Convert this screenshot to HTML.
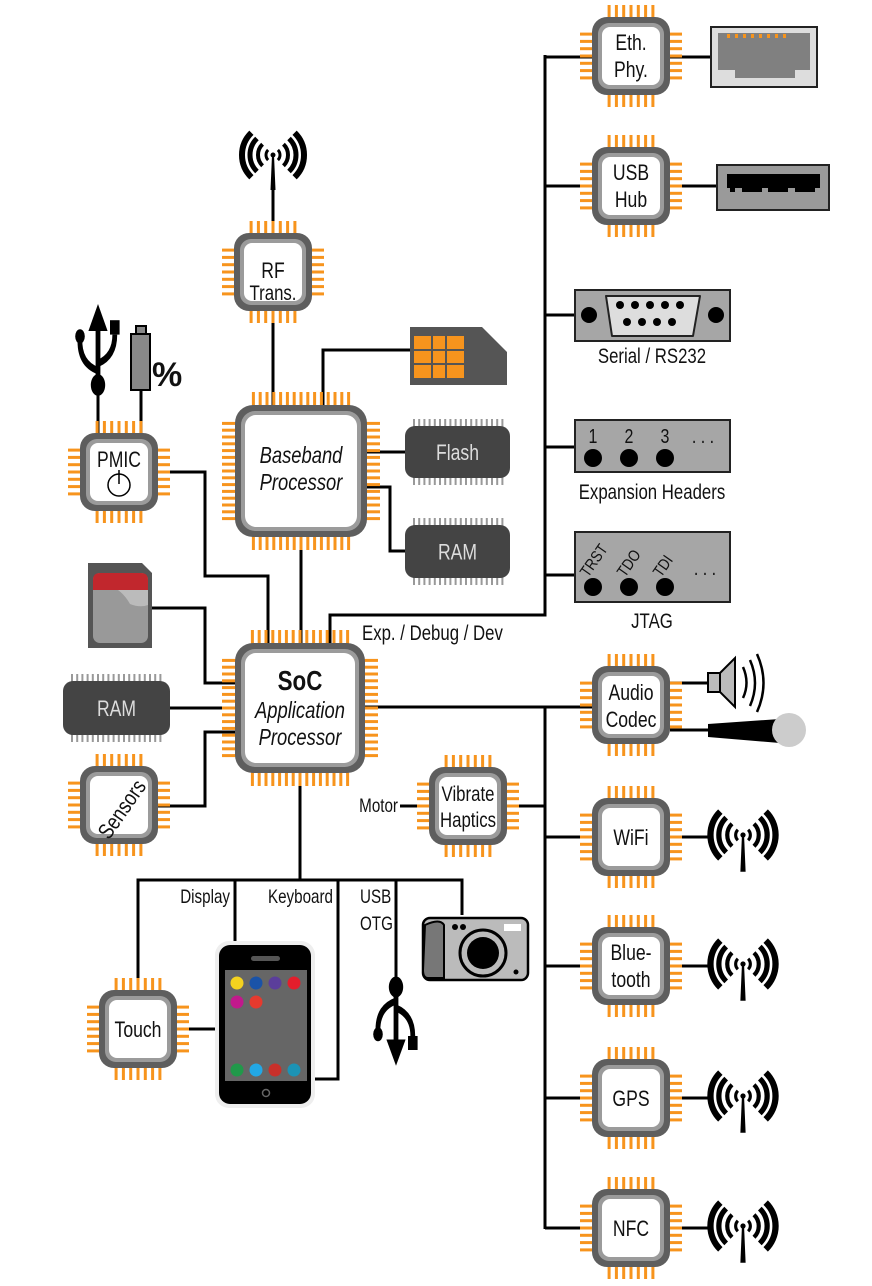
<!DOCTYPE html>
<html><head><meta charset="utf-8">
<style>
html,body{margin:0;padding:0;background:#fff;}
svg{display:block;}
text{font-family:"Liberation Sans Narrow","Liberation Sans",sans-serif;fill:#111;}
</style></head>
<body>
<svg id="s" width="872" height="1286" viewBox="0 0 872 1286" xmlns="http://www.w3.org/2000/svg">
<g id="lines" fill="none" stroke="#000" stroke-width="3">
  <polyline points="545,55 545,615 330,615 330,643"/>
  <line x1="545" y1="57" x2="593" y2="57"/>
  <line x1="545" y1="186" x2="593" y2="186"/>
  <line x1="545" y1="315" x2="575" y2="315"/>
  <line x1="545" y1="447" x2="575" y2="447"/>
  <line x1="545" y1="575" x2="575" y2="575"/>
  <line x1="670" y1="57" x2="711" y2="57"/>
  <line x1="670" y1="186" x2="717" y2="186"/>
  <line x1="273" y1="185" x2="273" y2="233"/>
  <line x1="273" y1="311" x2="273" y2="405"/>
  <polyline points="323,405 323,350 410,350"/>
  <line x1="367" y1="452" x2="405" y2="452"/>
  <polyline points="367,487 390,487 390,551 405,551"/>
  <line x1="301" y1="537" x2="301" y2="643"/>
  <polyline points="158,472 205,472 205,576 268,576 268,643"/>
  <line x1="98" y1="385" x2="98" y2="433"/>
  <line x1="141" y1="390" x2="141" y2="433"/>
  <polyline points="152,608 205,608 205,683 235,683"/>
  <line x1="170" y1="708" x2="235" y2="708"/>
  <polyline points="158,806 205,806 205,732 235,732"/>
  <line x1="365" y1="707" x2="593" y2="707"/>
  <line x1="545" y1="707" x2="545" y2="1229"/>
  <line x1="507" y1="806" x2="545" y2="806"/>
  <line x1="400" y1="806" x2="430" y2="806"/>
  <line x1="545" y1="837" x2="593" y2="837"/>
  <line x1="545" y1="966" x2="593" y2="966"/>
  <line x1="545" y1="1098" x2="593" y2="1098"/>
  <line x1="545" y1="1228" x2="593" y2="1228"/>
  <line x1="670" y1="683" x2="710" y2="683"/>
  <line x1="670" y1="730" x2="710" y2="730"/>
  <line x1="670" y1="837" x2="712" y2="837"/>
  <line x1="670" y1="966" x2="712" y2="966"/>
  <line x1="670" y1="1098" x2="712" y2="1098"/>
  <line x1="670" y1="1228" x2="712" y2="1228"/>
  <line x1="300" y1="773" x2="300" y2="880"/>
  <polyline points="138,990 138,880 462,880 462,915"/>
  <line x1="235" y1="880" x2="235" y2="943"/>
  <polyline points="338,880 338,1079 313,1079"/>
  <line x1="396" y1="880" x2="396" y2="985"/>
  <line x1="177" y1="1029" x2="217" y2="1029"/>
</g>
<g id="chips"></g>

<rect x="711" y="27" width="106" height="60" fill="#ddd" stroke="#222" stroke-width="2"/>
<path d="M718,33 H810 V70 H795 V78 H735 V70 H718 Z" fill="#808080"/>
<g fill="#f7941d"><rect x="727" y="34" width="3" height="4"/><rect x="735" y="34" width="3" height="4"/><rect x="743" y="34" width="3" height="4"/><rect x="751" y="34" width="3" height="4"/><rect x="759" y="34" width="3" height="4"/><rect x="767" y="34" width="3" height="4"/><rect x="775" y="34" width="3" height="4"/><rect x="783" y="34" width="3" height="4"/></g>
<rect x="717" y="165" width="112" height="45" fill="#9a9a9a" stroke="#222" stroke-width="2"/>
<path d="M727,174 H820 V188 H815 V192 H795 V188 H788 V192 H768 V188 H762 V192 H742 V188 H735 V192 H730 V188 H727 Z" fill="#000"/>
<rect x="575" y="290" width="155" height="51" fill="#a6a6a6" stroke="#222" stroke-width="2"/>
<path d="M606,296 H700 L693,336 H612 Z" fill="#ddd" stroke="#222" stroke-width="2" stroke-linejoin="round"/>
<circle cx="589" cy="315" r="8"/><circle cx="716" cy="315" r="8"/>
<g><circle cx="620" cy="305" r="4"/><circle cx="635" cy="305" r="4"/><circle cx="650" cy="305" r="4"/><circle cx="665" cy="305" r="4"/><circle cx="680" cy="305" r="4"/><circle cx="627" cy="322" r="4"/><circle cx="642" cy="322" r="4"/><circle cx="657" cy="322" r="4"/><circle cx="672" cy="322" r="4"/></g>
<text class="c" x="652" y="363" font-size="21" text-anchor="middle">Serial / RS232</text>
<rect x="575" y="420" width="155" height="52" fill="#a6a6a6" stroke="#222" stroke-width="2"/>
<text class="c" x="593" y="443" font-size="20" text-anchor="middle">1</text>
<text class="c" x="629" y="443" font-size="20" text-anchor="middle">2</text>
<text class="c" x="665" y="443" font-size="20" text-anchor="middle">3</text>
<text class="c" x="703" y="443" font-size="20" text-anchor="middle">. . .</text>
<circle cx="593" cy="458" r="9"/><circle cx="629" cy="458" r="9"/><circle cx="665" cy="458" r="9"/>
<text class="c" x="652" y="499" font-size="21" text-anchor="middle">Expansion Headers</text>
<rect x="575" y="532" width="155" height="70" fill="#a6a6a6" stroke="#222" stroke-width="2"/>
<text x="0" y="0" font-size="16" transform="translate(588,578) rotate(-55) scale(0.85,1)">TRST</text>
<text x="0" y="0" font-size="16" transform="translate(625,578) rotate(-55) scale(0.85,1)">TDO</text>
<text x="0" y="0" font-size="16" transform="translate(661,578) rotate(-55) scale(0.85,1)">TDI</text>
<text class="c" x="705" y="575" font-size="20" text-anchor="middle">. . .</text>
<circle cx="593" cy="587" r="9"/><circle cx="629" cy="587" r="9"/><circle cx="665" cy="587" r="9"/>
<text class="c" x="652" y="628" font-size="21" text-anchor="middle">JTAG</text>
<text class="c" x="362" y="640" font-size="21">Exp. / Debug / Dev</text>

<path d="M410,327 H482 L507,352 V385 H410 Z" fill="#555"/>
<path d="M414,336 H464 V378 H414 Z" fill="#f7941d"/>
<g stroke="#555" stroke-width="2"><line x1="414" y1="350" x2="464" y2="350"/><line x1="414" y1="364" x2="464" y2="364"/><line x1="432" y1="336" x2="432" y2="378"/><line x1="446" y1="336" x2="446" y2="378"/></g>

<rect x="136" y="326" width="10" height="8" fill="#888" stroke="#000" stroke-width="2"/>
<rect x="131" y="334" width="19" height="56" fill="#888" stroke="#000" stroke-width="2"/>
<text x="152" y="386" font-size="34" font-weight="bold" style="font-family:'Liberation Sans',sans-serif">%</text>
<path d="M88,563 H142 L152,573 V648 H88 Z" fill="#555"/>
<rect x="93" y="573" width="55" height="70" rx="7" fill="#999"/>
<path d="M93,580 Q93,573 100,573 H141 Q148,573 148,580 V590 H93 Z" fill="#c1272d"/>
<path d="M118,590 H148 V605 Q140,608 130,604 Q125,595 118,590Z" fill="#bbb"/>

<rect x="708" y="673" width="12" height="19" fill="#bbb" stroke="#000" stroke-width="2"/>
<path d="M720,673 L735,658 V707 L720,692 Z" fill="#bbb" stroke="#000" stroke-width="2"/>
<path d="M743,667 Q750,683 743,698 M750,660 Q760,683 750,706 M757,654 Q770,683 757,712" fill="none" stroke="#000" stroke-width="2.5"/>
<path d="M708,724 L780,719 V743 L708,737 Z" fill="#000"/>
<circle cx="789" cy="730" r="17" fill="#ccc"/>
<rect x="423" y="918" width="105" height="62" rx="7" fill="#bbb" stroke="#000" stroke-width="2.5"/>
<path d="M425,925 Q440,918 444,925 V978 H428 Q423,978 423,970Z" fill="#777" stroke="#000" stroke-width="2"/>
<circle cx="483" cy="953" r="23" fill="#bbb" stroke="#000" stroke-width="3"/>
<circle cx="483" cy="953" r="16" fill="#000"/>
<rect x="504" y="924" width="17" height="7" fill="#fff"/>
<circle cx="455" cy="927" r="3"/><circle cx="463" cy="927" r="3"/><circle cx="516" cy="972" r="2.5"/>
<rect x="215" y="941" width="100" height="167" rx="14" fill="#eee"/>
<rect x="219" y="945" width="92" height="159" rx="11" fill="#000"/>
<rect x="225" y="970" width="82" height="111" fill="#666"/>
<rect x="251" y="956" width="29" height="5" rx="2.5" fill="#555"/>
<circle cx="266" cy="1093" r="3.5" fill="none" stroke="#666" stroke-width="1.5"/>
<circle cx="237" cy="983" r="6.5" fill="#f4d21f"/><circle cx="256" cy="983" r="6.5" fill="#1a53a8"/><circle cx="275" cy="983" r="6.5" fill="#5b3e9b"/><circle cx="294" cy="983" r="6.5" fill="#e41e2c"/>
<circle cx="237" cy="1002" r="6.5" fill="#c1198c"/><circle cx="256" cy="1002" r="6.5" fill="#e63a2e"/>
<circle cx="237" cy="1070" r="6.5" fill="#21994a"/><circle cx="256" cy="1070" r="6.5" fill="#23a8e5"/><circle cx="275" cy="1070" r="6.5" fill="#c8302a"/><circle cx="294" cy="1070" r="6.5" fill="#1c93b5"/>

<text class="c" x="230" y="903" font-size="19" text-anchor="end">Display</text>
<text class="c" x="333" y="903" font-size="19" text-anchor="end">Keyboard</text>
<text class="c" x="360" y="903" font-size="19">USB</text>
<text class="c" x="360" y="930" font-size="19">OTG</text>
<text class="c" x="398" y="812" font-size="19" text-anchor="end">Motor</text>

<g font-size="22" text-anchor="middle">
<text class="c" x="631" y="50">Eth.</text><text class="c" x="631" y="77">Phy.</text>
<text class="c" x="631" y="180">USB</text><text class="c" x="631" y="207">Hub</text>
<text class="c" x="273" y="278">RF</text><text class="c" x="273" y="300" font-size="21">Trans.</text>
<text class="c" x="119" y="467">PMIC</text>
<text class="c" x="631" y="700">Audio</text><text class="c" x="631" y="727">Codec</text>
<text class="c" x="468" y="801" font-size="21">Vibrate</text><text class="c" x="468" y="827" font-size="21">Haptics</text>
<text class="c" x="631" y="845">WiFi</text>
<text class="c" x="631" y="960">Blue-</text><text class="c" x="631" y="987">tooth</text>
<text class="c" x="631" y="1106">GPS</text>
<text class="c" x="631" y="1236">NFC</text>
<text class="c" x="138" y="1037">Touch</text>
<text x="0" y="0" transform="translate(123,810) rotate(-55) scale(0.82,1)" dy="6">Sensors</text>
<text class="c" x="301" y="463" font-style="italic" font-size="23">Baseband</text>
<text class="c" x="301" y="490" font-style="italic" font-size="23">Processor</text>
<text class="c" x="300" y="690" font-weight="bold" font-size="28">SoC</text>
<text class="c" x="300" y="718" font-style="italic" font-size="23">Application</text>
<text class="c" x="300" y="745" font-style="italic" font-size="23">Processor</text>
</g>
<g id="dark"></g>
<g id="ant"></g>
<circle cx="119" cy="485" r="11" fill="none" stroke="#000" stroke-width="1.5"/>
<line x1="119" y1="470" x2="119" y2="484" stroke="#000" stroke-width="1.5"/>
<g id="usb1"></g>
</svg>
<script>
var NS="http://www.w3.org/2000/svg";
function el(p,t,a){var e=document.createElementNS(NS,t);for(var k in a)e.setAttribute(k,a[k]);p.appendChild(e);return e;}
var chips=document.getElementById('chips');
function chip(cx,cy,size,n,pl){
  var h=size/2,sp=(n>7)?6.8:7.3;
  var span=sp*(n-1);
  for(var i=0;i<n;i++){
    var o=-span/2+i*sp;
    el(chips,'rect',{x:cx+o-1.5,y:cy-h-pl,width:3,height:pl+4,fill:'#f7941d'});
    el(chips,'rect',{x:cx+o-1.5,y:cy+h-4,width:3,height:pl+4,fill:'#f7941d'});
    el(chips,'rect',{x:cx-h-pl,y:cy+o-1.5,width:pl+4,height:3,fill:'#f7941d'});
    el(chips,'rect',{x:cx+h-4,y:cy+o-1.5,width:pl+4,height:3,fill:'#f7941d'});
  }
  var r=size>100?18:15;
  el(chips,'rect',{x:cx-h,y:cy-h,width:size,height:size,rx:r,fill:'#5e5e5e'});
  el(chips,'rect',{x:cx-h+6,y:cy-h+6,width:size-12,height:size-12,rx:r-4,fill:'#9b9b9b'});
  el(chips,'rect',{x:cx-h+10,y:cy-h+10,width:size-20,height:size-20,rx:r-7,fill:'#fff'});
}
[[631,56],[631,186],[273,272],[119,472],[119,805],[631,705],[468,806],[631,837],[631,966],[631,1098],[631,1228],[138,1029]].forEach(function(c){chip(c[0],c[1],78,7,12);});
chip(301,471,132,15,13);
chip(300,708,130,15,13);
var dark=document.getElementById('dark');
function dchip(x,y,w,hh,label){
  var n=Math.floor((w-14)/5.2);
  for(var i=0;i<=n;i++){var px=x+8+i*5.2;
    el(dark,'rect',{x:px,y:y-7,width:2,height:hh+14,fill:'#999'});}
  el(dark,'rect',{x:x,y:y,width:w,height:hh,rx:10,fill:'#444'});
  var t=el(dark,'text',{x:x+w/2,y:y+hh/2+8,'font-size':22,'text-anchor':'middle','class':'c'});t.textContent=label;t.style.fill='#ddd';
}
dchip(405,426,105,52,'Flash');
dchip(405,525,105,53,'RAM');
dchip(63,681,107,54,'RAM');
var ant=document.getElementById('ant');
function antenna(cx,cy,sc){
  var g=el(ant,'g',{transform:'translate('+cx+','+cy+') scale('+sc+')',fill:'none',stroke:'#000'});
  [[7,3],[15,4],[23,5],[31,6]].forEach(function(a){
    var r=a[0],w=a[1],ang=0.8;
    var dx=r*Math.cos(ang),dy=r*Math.sin(ang);
    el(g,'path',{d:'M'+(-dx)+','+(-dy)+' A'+r+','+r+' 0 0 0 '+(-dx)+','+dy,'stroke-width':w});
    el(g,'path',{d:'M'+dx+','+(-dy)+' A'+r+','+r+' 0 0 1 '+dx+','+dy,'stroke-width':w});
  });
  el(g,'circle',{cx:0,cy:0,r:2.5,fill:'#000',stroke:'none'});
  el(g,'path',{d:'M-1,0 L-2.5,35 L2.5,35 L1,0 Z',fill:'#000',stroke:'none'});
}
antenna(273,155,1);
antenna(743,835,1.05);antenna(743,964,1.05);antenna(743,1096,1.05);antenna(743,1226,1.05);
var u=document.getElementById('usb1');
function usb(x,y,down,sx,sy){
  var g=el(u,'g',{transform:'translate('+x+','+y+') scale('+sx+','+(down?-sy:sy)+')'});
  el(g,'path',{d:'M0,-45 L-8,-30 H8 Z',fill:'#000'});
  el(g,'line',{x1:0,y1:-32,x2:0,y2:0,stroke:'#000','stroke-width':4});
  el(g,'path',{d:'M0,-8 Q-16,-12 -15,-26',fill:'none',stroke:'#000','stroke-width':4});
  el(g,'circle',{cx:-15,cy:-27,r:4,fill:'#000'});
  el(g,'path',{d:'M0,-12 Q14,-16 14,-28',fill:'none',stroke:'#000','stroke-width':4});
  el(g,'rect',{x:10,y:-36,width:8,height:8,fill:'#000'});
  el(g,'circle',{cx:0,cy:0,r:6,fill:'#000'});
}
usb(98,385,false,1.2,1.8);
usb(396,987,true,1.2,1.75);
document.querySelectorAll('text.c').forEach(function(t){
  var x=parseFloat(t.getAttribute('x'));
  t.setAttribute('transform','translate('+x+',0) scale(0.8,1) translate('+(-x)+',0)');
});
</script>
</body></html>
